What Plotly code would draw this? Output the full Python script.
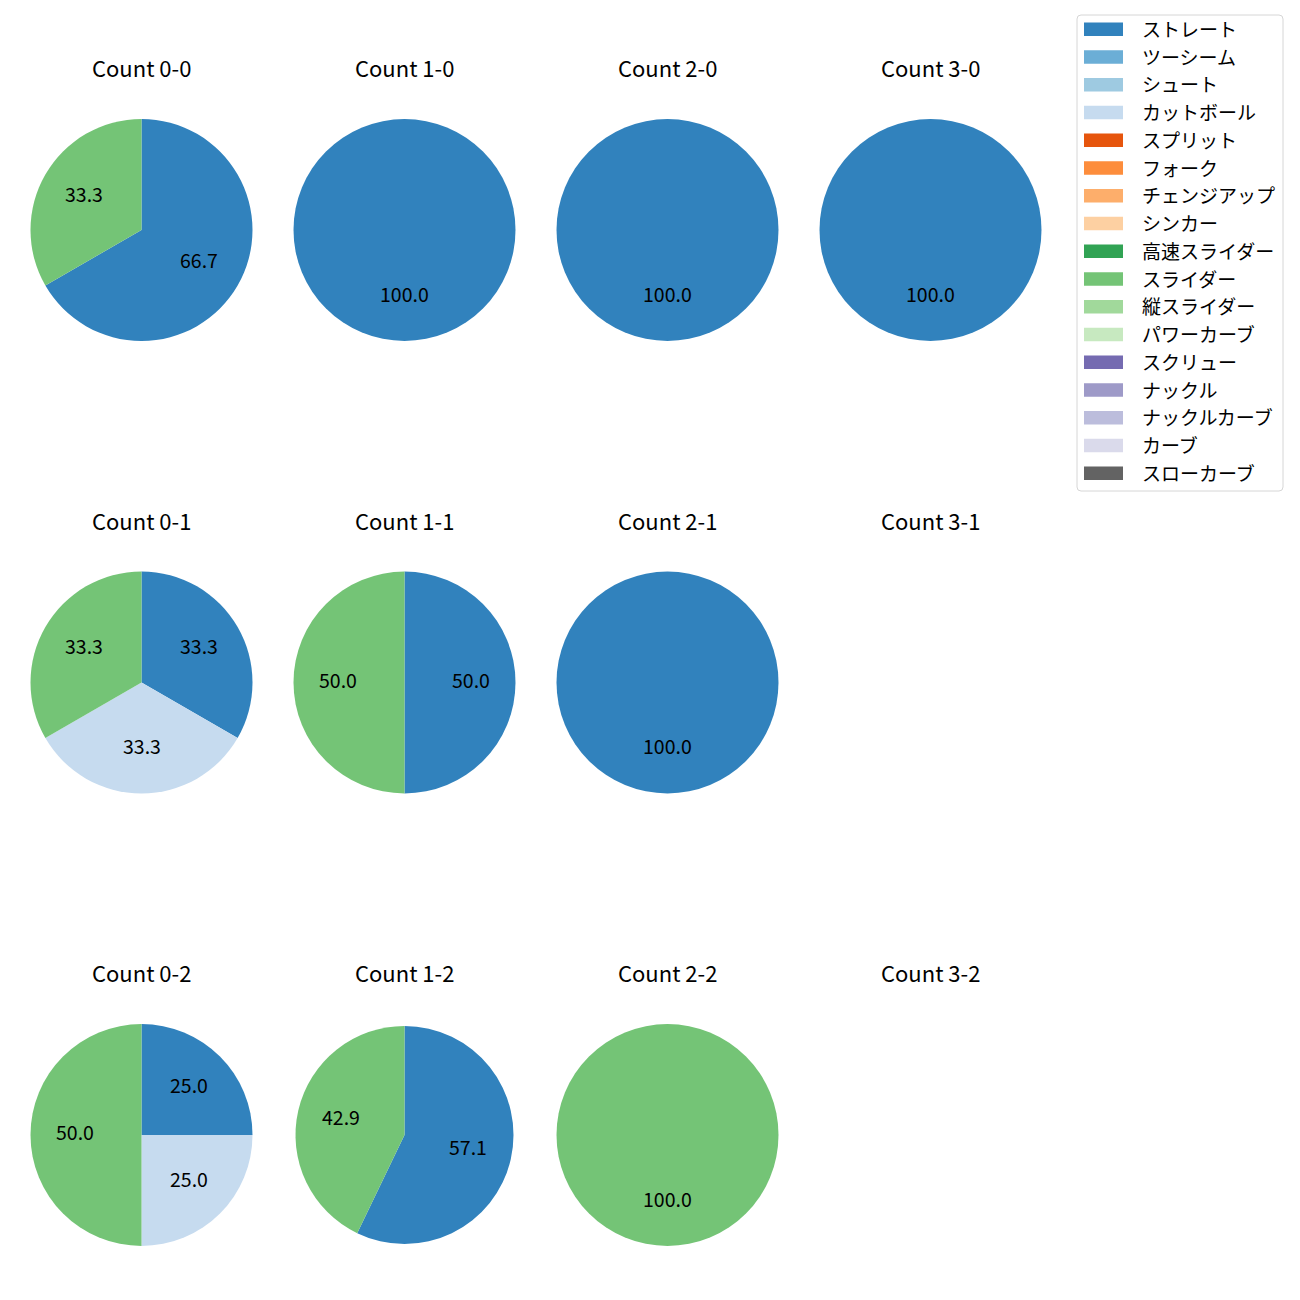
import math
import plotly.graph_objects as go

# ---- data ----
pitch_types = ["ストレート", "ツーシーム", "シュート", "カットボール", "スプリット", "フォーク",
               "チェンジアップ", "シンカー", "高速スライダー", "スライダー", "縦スライダー",
               "パワーカーブ", "スクリュー", "ナックル", "ナックルカーブ", "カーブ", "スローカーブ"]
pitch_colors = ["#3182bd", "#6baed6", "#9ecae1", "#c6dbef", "#e6550d", "#fd8d3c",
                "#fdae6b", "#fdd0a2", "#31a354", "#74c476", "#a1d99b", "#c7e9c0",
                "#756bb1", "#9e9ac8", "#bcbddc", "#dadaeb", "#636363"]

count_labels = ["0-0", "1-0", "2-0", "3-0",
                "0-1", "1-1", "2-1", "3-1",
                "0-2", "1-2", "2-2", "3-2"]
straight_counts = [2, 1, 1, 1, 1, 1, 1, 0, 1, 4, 0, 0]
cutball_counts = [0, 0, 0, 0, 1, 0, 0, 0, 1, 0, 0, 0]
slider_counts = [1, 0, 0, 0, 1, 1, 0, 0, 2, 3, 1, 0]

series = {"ストレート": straight_counts, "カットボール": cutball_counts, "スライダー": slider_counts}

# ---- layout (pixels) ----
W = H = 1300
OFF = 8  # page body margin
col_cx = [141.5, 404.5, 667.5, 930.5]
row_cy = [230, 682.5, 1135]
radius = [111] * 12
radius[9] = 109
title_offset = 163
label_dy = -3.5
legend_dy = -1
FONT = "Noto Sans CJK JP"


def px(x):
    return (x - OFF) / W


def py(y):
    return 1 - (y - OFF) / H


fig = go.Figure()
annotations = []

for i, cl in enumerate(count_labels):
    r, c = divmod(i, 4)
    cx, cy, rad = col_cx[c], row_cy[r], radius[i]
    annotations.append(dict(x=px(cx), y=py(cy - title_offset), xref="paper", yref="paper",
                            text=f"Count {cl}", showarrow=False, xanchor="center", yanchor="middle",
                            font=dict(family=FONT, size=22, color="#000000")))
    labels, values, colors = [], [], []
    for name in pitch_types:
        if name in series and series[name][i] > 0:
            labels.append(name)
            values.append(series[name][i])
            colors.append(pitch_colors[pitch_types.index(name)])
    if not values:
        continue
    fig.add_trace(go.Pie(
        labels=labels, values=values, sort=False, direction="clockwise", rotation=0,
        marker=dict(colors=colors, line=dict(width=0)),
        textinfo="none", showlegend=False,
        domain=dict(x=[px(cx - rad), px(cx + rad)], y=[py(cy + rad), py(cy - rad)]),
    ))
    total = sum(values)
    cum = 0
    for v in values:
        mid = (cum + v / 2) / total * 360
        cum += v
        ang = math.radians(90 - mid)
        tx = cx + 0.6 * rad * math.cos(ang)
        ty = cy - 0.6 * rad * math.sin(ang) + label_dy
        annotations.append(dict(x=px(tx), y=py(ty), xref="paper", yref="paper",
                                text=f"{v / total * 100:.1f}", showarrow=False,
                                xanchor="center", yanchor="middle",
                                font=dict(family=FONT, size=19.5, color="#000000")))

# ---- manual legend (matplotlib style) ----
shapes = []
lx0, lx1, ly0, ly1, cr = 1077, 1283, 15, 491, 4
path = (f"M {px(lx0 + cr)},{py(ly0)} L {px(lx1 - cr)},{py(ly0)} "
        f"Q {px(lx1)},{py(ly0)} {px(lx1)},{py(ly0 + cr)} "
        f"L {px(lx1)},{py(ly1 - cr)} Q {px(lx1)},{py(ly1)} {px(lx1 - cr)},{py(ly1)} "
        f"L {px(lx0 + cr)},{py(ly1)} Q {px(lx0)},{py(ly1)} {px(lx0)},{py(ly1 - cr)} "
        f"L {px(lx0)},{py(ly0 + cr)} Q {px(lx0)},{py(ly0)} {px(lx0 + cr)},{py(ly0)} Z")
shapes.append(dict(type="path", path=path, xref="paper", yref="paper",
                   line=dict(color="#d6d6d6", width=1), fillcolor="rgba(255,255,255,0.8)"))
first_y, step = 29.3, 27.75
for k, (name, col) in enumerate(zip(pitch_types, pitch_colors)):
    yc = first_y + k * step
    shapes.append(dict(type="rect", xref="paper", yref="paper",
                       x0=px(1084), x1=px(1123), y0=py(yc - 6.7), y1=py(yc + 6.7),
                       fillcolor=col, line=dict(width=0)))
    annotations.append(dict(x=px(1140), y=py(yc + legend_dy), xref="paper", yref="paper", text=name,
                            showarrow=False, xanchor="left", yanchor="middle",
                            font=dict(family=FONT, size=19, color="#000000")))

fig.update_layout(width=W, height=H, margin=dict(l=0, r=0, t=0, b=0),
                  paper_bgcolor="white", plot_bgcolor="white",
                  annotations=annotations, shapes=shapes, showlegend=False,
                  font=dict(family=FONT))

fig.write_html("out.html")
